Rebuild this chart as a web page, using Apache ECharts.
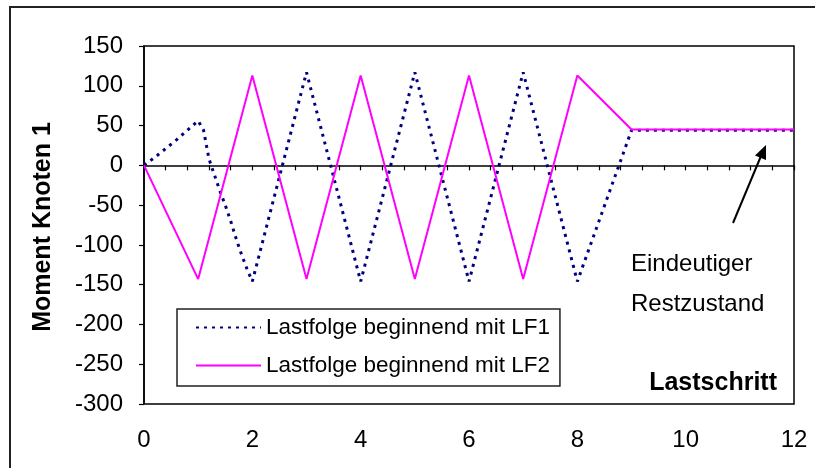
<!DOCTYPE html>
<html>
<head>
<meta charset="utf-8">
<script src="https://cdn.jsdelivr.net/npm/echarts@6/dist/echarts.min.js"></script>
<style>
html,body{margin:0;padding:0;background:#fff;}
#chart{width:815px;height:468px;}
</style>
</head>
<body>
<div id="chart"></div>
<script>
// Data
var lf1X = [0, 0.2, 0.4, 0.6, 0.8, 1.0, 1.1, 1.2, 1.3, 1.4, 1.5, 1.6, 1.7, 1.8, 1.9, 2, 3, 4, 5, 6, 7, 8, 9, 12];
var lf1Y = [0, 10, 21, 32, 44, 56, 44, 8, -12, -32, -50, -70, -92, -112, -130, -146, 117, -146, 117, -146, 117, -146, 44, 44];
var lf2X = [0, 1, 2, 3, 4, 5, 6, 7, 8, 9, 12];
var lf2Y = [0, -143, 113, -143, 113, -143, 113, -143, 113, 45, 45];
var seriesNames = ['Lastfolge beginnend mit LF1', 'Lastfolge beginnend mit LF2'];
var yTicks = [150, 100, 50, 0, -50, -100, -150, -200, -250, -300];
var xLabels = [0, 2, 4, 6, 8, 10, 12];

function pairs(xs, ys) { return xs.map(function (x, i) { return [x, ys[i]]; }); }

var FONT = '"Liberation Sans", Arial, sans-serif';
var chart = echarts.init(document.getElementById('chart'), null, { renderer: 'canvas' });

var option = {
  animation: false,
  backgroundColor: '#fff',
  textStyle: { fontFamily: FONT },
  grid: { left: 144, top: 46, right: 21, bottom: 64, show: true, borderColor: '#000', borderWidth: 1.5, backgroundColor: 'transparent' },
  xAxis: [
    {
      type: 'value', min: 0, max: 12, interval: 0.4, position: 'bottom',
      axisLine: { show: true, onZero: true, lineStyle: { color: '#000', width: 1.5 } },
      axisTick: { show: true, length: 5, inside: false, lineStyle: { color: '#000', width: 1.2 } },
      axisLabel: { show: false },
      splitLine: { show: false }
    },
    {
      type: 'value', min: 0, max: 12, interval: 2, position: 'bottom',
      axisLine: { show: false, onZero: false },
      axisTick: { show: false },
      axisLabel: {
        show: true, margin: 24, color: '#000', fontSize: 24, fontFamily: FONT,
        formatter: function (v) { return xLabels.indexOf(Math.round(v)) >= 0 ? String(Math.round(v)) : ''; }
      },
      splitLine: { show: false }
    }
  ],
  yAxis: {
    type: 'value', min: -300, max: 150, interval: 50,
    axisLine: { show: true, onZero: false, lineStyle: { color: '#000', width: 1.5 } },
    axisTick: { show: true, length: 5, lineStyle: { color: '#000', width: 1.2 } },
    axisLabel: {
      margin: 21, color: '#000', fontSize: 24, fontFamily: FONT,
      formatter: function (v) { return yTicks.indexOf(v) >= 0 ? String(v) : ''; }
    },
    splitLine: { show: false }
  },
  legend: {
    orient: 'vertical', left: 177, top: 309,
    padding: [7, 10, 9, 18], itemGap: 15, itemWidth: 65, itemHeight: 24,
    backgroundColor: '#fff', borderColor: '#222', borderWidth: 1.5, borderRadius: 0,
    itemStyle: { color: 'transparent', borderColor: 'transparent', borderWidth: 0, opacity: 0 },
    textStyle: { color: '#000', fontSize: 22.5, fontFamily: FONT },
    data: seriesNames
  },
  series: [
    {
      name: seriesNames[0], type: 'line', xAxisIndex: 0, showSymbol: false, symbol: 'none',
      data: pairs(lf1X, lf1Y),
      lineStyle: { color: '#000080', width: 3, type: [3, 5] },
      itemStyle: { color: '#000080' }, z: 2
    },
    {
      name: seriesNames[1], type: 'line', xAxisIndex: 0, showSymbol: false, symbol: 'none',
      data: pairs(lf2X, lf2Y),
      lineStyle: { color: '#FF00FF', width: 2 },
      itemStyle: { color: '#FF00FF' }, z: 3
    }
  ],
  graphic: [
    { type: 'rect', shape: { x: 10, y: 7, width: 830, height: 490 }, style: { fill: 'none', stroke: '#222', lineWidth: 2 }, silent: true, z: -1 },
    { type: 'text', x: 43, y: 227, rotation: Math.PI / 2,
      style: { text: 'Moment Knoten 1', fontSize: 25, fontWeight: 'bold', fontFamily: FONT, fill: '#000', textAlign: 'center', textVerticalAlign: 'middle' } },
    { type: 'text', x: 777, y: 383,
      style: { text: 'Lastschritt', fontSize: 25, fontWeight: 'bold', fontFamily: FONT, fill: '#000', textAlign: 'right', textVerticalAlign: 'middle' } },
    { type: 'text', x: 631, y: 264,
      style: { text: 'Eindeutiger', fontSize: 24, fontFamily: FONT, fill: '#000', textAlign: 'left', textVerticalAlign: 'middle' } },
    { type: 'text', x: 631, y: 304,
      style: { text: 'Restzustand', fontSize: 24, fontFamily: FONT, fill: '#000', textAlign: 'left', textVerticalAlign: 'middle' } },
    { type: 'line', shape: { x1: 733, y1: 223, x2: 761, y2: 156 }, style: { stroke: '#000', lineWidth: 2 } },
    { type: 'polygon', shape: { points: [[766, 145], [766, 160], [755, 155.6]] }, style: { fill: '#000' } }
  ]
};
chart.setOption(option);
</script>
</body>
</html>
